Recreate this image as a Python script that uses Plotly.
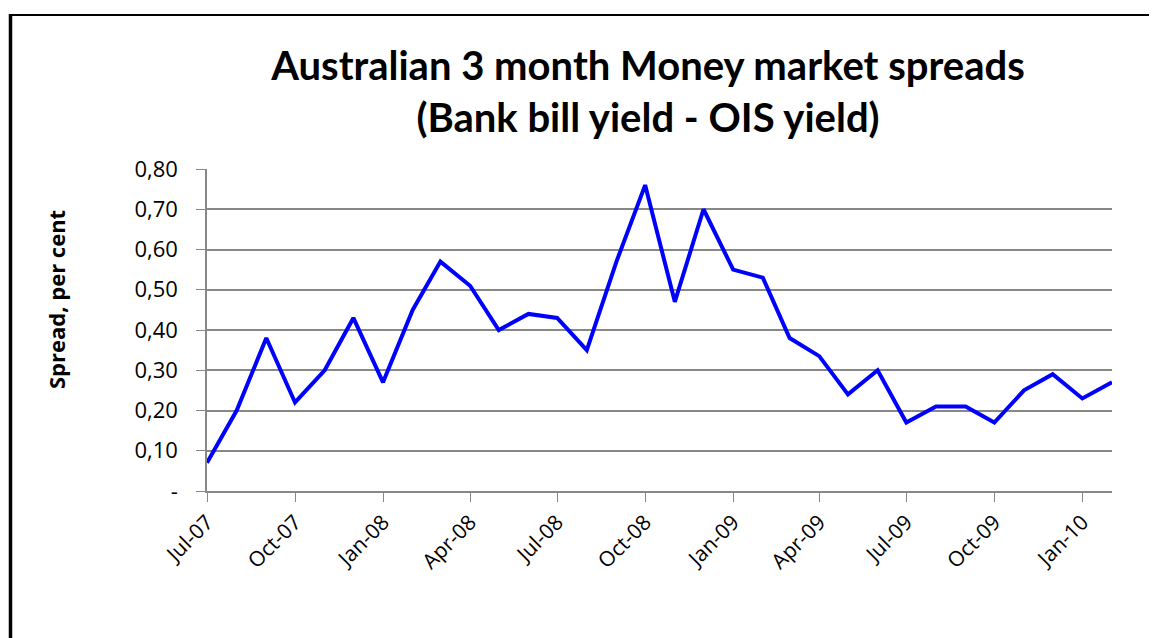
import plotly.graph_objects as go

months = ["2007-07","2007-08","2007-09","2007-10","2007-11","2007-12",
          "2008-01","2008-02","2008-03","2008-04","2008-05","2008-06",
          "2008-07","2008-08","2008-09","2008-10","2008-11","2008-12",
          "2009-01","2009-02","2009-03","2009-04","2009-05","2009-06",
          "2009-07","2009-08","2009-09","2009-10","2009-11","2009-12",
          "2010-01","2010-02"]
spread = [0.07,0.20,0.38,0.22,0.30,0.43,
          0.27,0.45,0.57,0.51,0.40,0.44,
          0.43,0.35,0.57,0.76,0.47,0.70,
          0.55,0.53,0.38,0.335,0.24,0.30,
          0.17,0.21,0.21,0.17,0.25,0.29,
          0.23,0.27]
y_tickvals = [0,0.1,0.2,0.3,0.4,0.5,0.6,0.7,0.8]
y_ticktext = ["-","0,10","0,20","0,30","0,40","0,50","0,60","0,70","0,80"]
x_tickvals = ["2007-07","2007-10","2008-01","2008-04","2008-07","2008-10",
              "2009-01","2009-04","2009-07","2009-10","2010-01"]
x_ticktext = ["Jul-07","Oct-07","Jan-08","Apr-08","Jul-08","Oct-08",
              "Jan-09","Apr-09","Jul-09","Oct-09","Jan-10"]

xd = [m + "-01" for m in months]

# figure geometry (page has an 8px body margin)
W, H = 1149, 630
L, R, T, B = 199, 45, 161, 147
PW, PH = W - L - R, H - T - B

def px(xf):
    return (xf - L) / PW

def py(yf):
    return 1 - (yf - T) / PH

fig = go.Figure()
fig.add_trace(go.Scatter(x=xd, y=spread, mode="lines",
                         line=dict(color="#0000FF", width=4)))

fig.update_layout(
    width=W, height=H,
    margin=dict(l=L, r=R, t=T, b=B),
    paper_bgcolor="white", plot_bgcolor="white",
    showlegend=False,
    title=dict(text="<b>Australian 3 month Money market spreads<br>(Bank bill yield - OIS yield)</b>",
               x=(648 - 8) / W, xanchor="center", y=1 - (80 - 8) / H, yanchor="middle",
               font=dict(family="Lato, Open Sans, sans-serif", size=40, color="black")),
    font=dict(family="Open Sans, sans-serif", color="black"),
)
fig.update_xaxes(
    type="date", range=[xd[0], xd[-1]],
    tickvals=[v + "-01" for v in x_tickvals], ticktext=x_ticktext,
    tickangle=-45, ticks="outside", ticklen=9, tickcolor="#888888",
    showline=True, linecolor="#888888", linewidth=1.5,
    showgrid=False, tickfont=dict(size=21, family="Open Sans, sans-serif"),
)
fig.update_yaxes(
    range=[0, 0.8], tickvals=y_tickvals, ticktext=y_ticktext,
    ticks="outside", ticklen=9, tickcolor="#888888",
    showline=True, linecolor="#888888", linewidth=1.5,
    showgrid=True, gridcolor="#888888", gridwidth=1.5,
    zeroline=False, ticklabelstandoff=14,
    tickfont=dict(size=22, family="Open Sans, sans-serif"),
)
fig.add_annotation(text="<b>Spread, per cent</b>", textangle=-90,
                   xref="paper", yref="paper", x=px(56 - 8), y=py(300 - 8),
                   xanchor="center", yanchor="middle", showarrow=False,
                   font=dict(size=22, family="Open Sans, sans-serif", color="black"))
fig.add_shape(type="line", xref="paper", yref="paper",
              x0=px(1), x1=px(1152), y0=py(7), y1=py(7),
              line=dict(color="black", width=2))
fig.add_shape(type="line", xref="paper", yref="paper",
              x0=px(2.5), x1=px(2.5), y0=py(H + 5), y1=py(6),
              line=dict(color="black", width=3.5))
fig.write_html("out.html")
